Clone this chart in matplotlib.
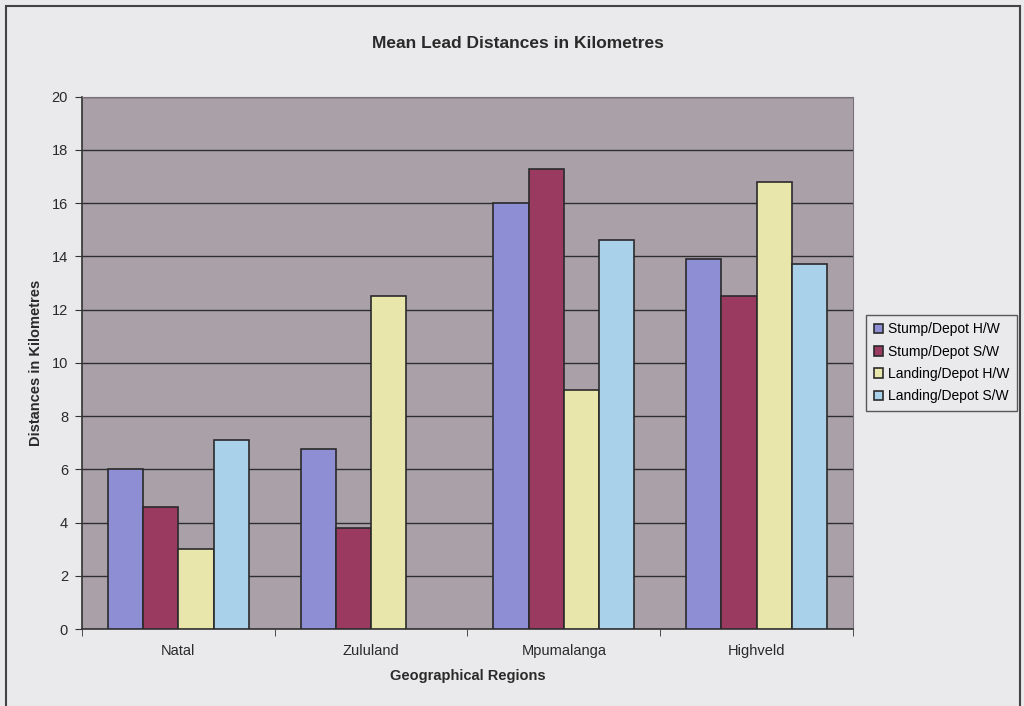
import numpy as np
import matplotlib
matplotlib.use('Agg')
import matplotlib.pyplot as plt
from matplotlib.patches import Rectangle

plt.rcParams['font.family'] = ['Liberation Sans', 'DejaVu Sans']

# data
regions = ['Natal', 'Zululand', 'Mpumalanga', 'Highveld']
series = ['Stump/Depot H/W', 'Stump/Depot S/W', 'Landing/Depot H/W', 'Landing/Depot S/W']
stump_hw = [6.0, 6.75, 16.0, 13.9]
stump_sw = [4.6, 3.8, 17.3, 12.5]
landing_hw = [3.0, 12.5, 9.0, 16.8]
landing_sw = [7.1, np.nan, 14.6, 13.7]  # no bar for Zululand
colours = ['#8e8ed4', '#9a3a60', '#e9e6ab', '#a9d1e9']

fig = plt.figure(figsize=(10.24, 7.06), dpi=100)
fig.patch.set_facecolor('#eaeaec')
ax = fig.add_axes([0.080, 0.109, 0.753, 0.754])
ax.set_facecolor('#aaa1a8')

x = np.arange(len(regions))
w = 0.183
vals = [stump_hw, stump_sw, landing_hw, landing_sw]
for i, (v, c, s) in enumerate(zip(vals, colours, series)):
    ax.bar(x + (i - 1.5) * w, v, w, color=c, edgecolor='#2a2a2a',
           linewidth=1.2, label=s, zorder=3)

ax.set_xlim(-0.5, 3.5)
ax.set_ylim(0, 20)
ax.set_yticks(range(0, 21, 2))
ax.set_xticks(x)
ax.set_xticklabels(regions)
ax.set_xticks(np.arange(-0.5, 4.0, 1.0), minor=True)
ax.tick_params(axis='x', which='major', length=0, pad=11, labelsize=10.5)
ax.tick_params(axis='x', which='minor', length=5, color='#333333')
ax.tick_params(axis='y', length=5, color='#333333', pad=5, labelsize=10.5)
ax.tick_params(labelcolor='#2a2a2a')
ax.grid(axis='y', color='#2e2e2e', linewidth=1.0, zorder=1)
for sp in ['top', 'right']:
    ax.spines[sp].set_color('#7a7078')
for sp in ['left', 'bottom']:
    ax.spines[sp].set_color('#333333')
    ax.spines[sp].set_linewidth(1.2)

fig.text(518 / 1024, 1 - 44 / 706, 'Mean Lead Distances in Kilometres', fontsize=12.5,
         fontweight='bold', color='#2a2a2a', ha='center', va='center')
ax.set_xlabel('Geographical Regions', fontsize=10.5, fontweight='bold', color='#2a2a2a', labelpad=8)
ax.set_ylabel('Distances in Kilometres', fontsize=10.5, fontweight='bold', color='#2a2a2a', labelpad=6)

leg = ax.legend(loc='center left', bbox_to_anchor=(1.008, 0.5), fontsize=10,
                frameon=True, fancybox=False, edgecolor='#333333',
                facecolor='#eaeaec', handlelength=0.7, handleheight=0.7,
                handletextpad=0.3, borderpad=0.55, labelspacing=0.6)
leg.get_frame().set_linewidth(1.0)

fig.patches.append(Rectangle((6 / 1024, -0.05), 1014 / 1024, 1 - 6 / 706 + 0.05,
                             transform=fig.transFigure, fill=False,
                             edgecolor='#444444', linewidth=1.5))

fig.savefig('out.png', dpi=100, facecolor=fig.get_facecolor())
